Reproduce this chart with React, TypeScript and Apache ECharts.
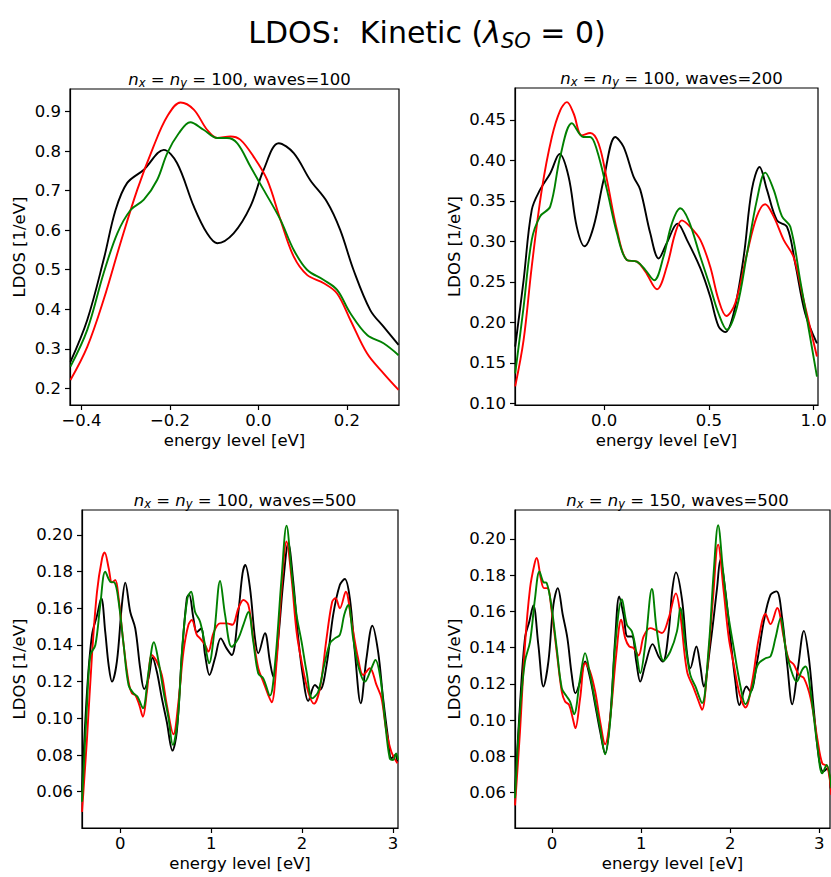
import React, { useEffect, useRef } from "react";
import * as echarts from "echarts";

const FONT = "DejaVu Sans";

// ---- tick labels ----
const xTicksTop1 = [-0.4, -0.2, 0.0, 0.2];
const yTicksTop1 = [0.2, 0.3, 0.4, 0.5, 0.6, 0.7, 0.8, 0.9];
const xTicksTop2 = [0.0, 0.5, 1.0];
const yTicksTop2 = [0.1, 0.15, 0.2, 0.25, 0.3, 0.35, 0.4, 0.45];
const xTicksBottom = [0, 1, 2, 3];
const yTicksBottom = [0.06, 0.08, 0.1, 0.12, 0.14, 0.16, 0.18, 0.2];

// ---- panel titles ----
const panelGrid = ["100", "100", "100", "150"];
const panelWaves = ["100", "200", "500", "500"];

// ---- panel 1: nx=ny=100, waves=100 ----
const p1Black = [[-0.425,0.267],[-0.387,0.373],[-0.350,0.525],[-0.323,0.651],[-0.297,0.719],[-0.259,0.753],[-0.214,0.803],[-0.184,0.770],[-0.146,0.660],[-0.116,0.592],[-0.093,0.567],[-0.056,0.592],[-0.018,0.660],[0.012,0.753],[0.046,0.820],[0.080,0.795],[0.117,0.727],[0.155,0.672],[0.185,0.601],[0.215,0.500],[0.253,0.398],[0.283,0.356],[0.317,0.310]];
const p1Red = [[-0.425,0.221],[-0.387,0.305],[-0.350,0.424],[-0.312,0.567],[-0.274,0.702],[-0.237,0.812],[-0.206,0.888],[-0.176,0.923],[-0.146,0.905],[-0.116,0.854],[-0.093,0.833],[-0.063,0.837],[-0.041,0.829],[-0.011,0.786],[0.020,0.727],[0.050,0.626],[0.080,0.533],[0.110,0.487],[0.148,0.466],[0.178,0.440],[0.208,0.373],[0.246,0.288],[0.283,0.238],[0.317,0.196]];
const p1Green = [[-0.425,0.255],[-0.387,0.348],[-0.350,0.491],[-0.319,0.592],[-0.289,0.651],[-0.259,0.677],[-0.229,0.727],[-0.206,0.795],[-0.180,0.845],[-0.154,0.873],[-0.124,0.854],[-0.093,0.833],[-0.071,0.833],[-0.048,0.820],[-0.018,0.761],[0.012,0.702],[0.050,0.626],[0.080,0.550],[0.110,0.500],[0.148,0.474],[0.178,0.449],[0.208,0.390],[0.246,0.335],[0.283,0.314],[0.317,0.284]];

// ---- panel 2: nx=ny=100, waves=200 ----
const p2Black = [[-0.425,0.170],[-0.385,0.252],[-0.346,0.339],[-0.306,0.364],[-0.258,0.384],[-0.213,0.408],[-0.170,0.380],[-0.131,0.318],[-0.094,0.294],[-0.051,0.318],[-0.003,0.376],[0.053,0.429],[0.092,0.417],[0.140,0.380],[0.172,0.364],[0.220,0.310],[0.260,0.279],[0.299,0.298],[0.350,0.322],[0.395,0.302],[0.459,0.267],[0.506,0.232],[0.546,0.195],[0.578,0.188],[0.618,0.211],[0.666,0.281],[0.705,0.364],[0.742,0.392],[0.777,0.364],[0.825,0.326],[0.873,0.318],[0.912,0.273],[0.960,0.211],[1.016,0.174]];
const p2Red = [[-0.425,0.121],[-0.385,0.178],[-0.346,0.269],[-0.298,0.364],[-0.250,0.429],[-0.210,0.462],[-0.178,0.472],[-0.146,0.458],[-0.107,0.431],[-0.067,0.434],[-0.027,0.421],[0.013,0.376],[0.061,0.314],[0.108,0.277],[0.156,0.275],[0.196,0.263],[0.252,0.241],[0.299,0.269],[0.339,0.310],[0.371,0.326],[0.411,0.318],[0.459,0.302],[0.506,0.269],[0.546,0.228],[0.583,0.208],[0.626,0.224],[0.682,0.285],[0.729,0.331],[0.769,0.346],[0.809,0.331],[0.857,0.302],[0.904,0.281],[0.952,0.228],[1.016,0.158]];
const p2Green = [[-0.425,0.137],[-0.385,0.219],[-0.346,0.302],[-0.306,0.331],[-0.258,0.343],[-0.210,0.405],[-0.154,0.446],[-0.099,0.429],[-0.067,0.429],[-0.035,0.413],[0.013,0.364],[0.061,0.310],[0.108,0.277],[0.156,0.275],[0.196,0.265],[0.239,0.252],[0.283,0.281],[0.323,0.322],[0.363,0.341],[0.403,0.326],[0.459,0.281],[0.506,0.244],[0.546,0.211],[0.586,0.191],[0.634,0.219],[0.682,0.285],[0.729,0.351],[0.769,0.385],[0.809,0.364],[0.849,0.331],[0.889,0.318],[0.936,0.252],[1.016,0.133]];

// ---- panel 3: nx=ny=100, waves=500 ----
const p3Black = [[-0.421,0.060],[-0.366,0.1145],[-0.311,0.1455],[-0.256,0.156],[-0.209,0.1655],[-0.165,0.147],[-0.128,0.129],[-0.091,0.120],[-0.037,0.131],[0.018,0.162],[0.055,0.174],[0.110,0.158],[0.165,0.149],[0.220,0.127],[0.263,0.116],[0.311,0.122],[0.355,0.133],[0.402,0.1255],[0.457,0.111],[0.512,0.098],[0.574,0.0824],[0.622,0.0927],[0.677,0.1345],[0.732,0.1655],[0.757,0.1676],[0.805,0.1545],[0.842,0.147],[0.889,0.149],[0.933,0.1345],[0.981,0.1236],[1.043,0.133],[1.105,0.1436],[1.171,0.138],[1.226,0.1345],[1.299,0.158],[1.345,0.179],[1.375,0.1836],[1.427,0.171],[1.482,0.1436],[1.518,0.1355],[1.591,0.1464],[1.646,0.131],[1.683,0.1227],[1.738,0.1436],[1.793,0.1745],[1.848,0.1955],[1.903,0.1745],[1.958,0.1436],[2.013,0.1218],[2.067,0.1095],[2.141,0.1182],[2.196,0.1155],[2.269,0.129],[2.342,0.1564],[2.415,0.1727],[2.470,0.176],[2.525,0.1655],[2.580,0.1364],[2.645,0.1082],[2.708,0.1327],[2.773,0.1505],[2.836,0.1364],[2.891,0.111],[2.946,0.0891],[2.982,0.0782],[3.026,0.080],[3.048,0.0764]];
const p3Red = [[-0.421,0.049],[-0.366,0.089],[-0.311,0.1345],[-0.256,0.169],[-0.201,0.187],[-0.172,0.1905],[-0.128,0.182],[-0.091,0.174],[-0.055,0.1755],[-0.018,0.1655],[0.037,0.140],[0.091,0.120],[0.128,0.1136],[0.165,0.1127],[0.209,0.1073],[0.249,0.1009],[0.293,0.1145],[0.348,0.1345],[0.402,0.131],[0.457,0.1236],[0.512,0.1073],[0.585,0.0913],[0.640,0.109],[0.695,0.1364],[0.750,0.151],[0.787,0.1536],[0.842,0.1455],[0.878,0.1436],[0.933,0.140],[0.970,0.1364],[1.024,0.1464],[1.098,0.1518],[1.171,0.1518],[1.233,0.151],[1.299,0.160],[1.354,0.1645],[1.409,0.1618],[1.463,0.1436],[1.518,0.1273],[1.573,0.120],[1.628,0.1127],[1.665,0.1087],[1.720,0.131],[1.774,0.171],[1.829,0.1964],[1.884,0.1764],[1.939,0.1473],[1.994,0.131],[2.067,0.1145],[2.130,0.108],[2.196,0.1164],[2.269,0.1436],[2.331,0.1636],[2.368,0.1655],[2.415,0.160],[2.480,0.169],[2.543,0.1527],[2.616,0.1327],[2.671,0.1236],[2.745,0.1273],[2.818,0.1182],[2.873,0.111],[2.928,0.0927],[2.982,0.0818],[3.048,0.0755]];
const p3Green = [[-0.421,0.0545],[-0.366,0.1073],[-0.329,0.1345],[-0.274,0.140],[-0.220,0.1618],[-0.165,0.180],[-0.110,0.1745],[-0.062,0.174],[-0.018,0.1636],[0.037,0.140],[0.091,0.1182],[0.146,0.1136],[0.190,0.1118],[0.249,0.1055],[0.311,0.1255],[0.370,0.1415],[0.421,0.131],[0.476,0.1145],[0.531,0.100],[0.578,0.0855],[0.633,0.100],[0.684,0.140],[0.739,0.1655],[0.779,0.169],[0.823,0.158],[0.878,0.1527],[0.933,0.140],[0.977,0.130],[1.035,0.1473],[1.098,0.1749],[1.153,0.1564],[1.226,0.139],[1.299,0.1436],[1.354,0.151],[1.409,0.158],[1.463,0.1418],[1.518,0.1245],[1.573,0.1218],[1.646,0.1124],[1.701,0.129],[1.774,0.1764],[1.829,0.2051],[1.884,0.180],[1.939,0.1564],[1.994,0.1418],[2.049,0.1255],[2.111,0.1109],[2.177,0.1145],[2.243,0.129],[2.306,0.1409],[2.360,0.1436],[2.415,0.1455],[2.463,0.1564],[2.507,0.1618],[2.562,0.1436],[2.616,0.129],[2.690,0.120],[2.763,0.1273],[2.807,0.1318],[2.862,0.1218],[2.909,0.100],[2.964,0.0782],[3.001,0.0773],[3.034,0.0809],[3.056,0.0773]];

// ---- panel 4: nx=ny=150, waves=500 ----
const p4Black = [[-0.416,0.0606],[-0.360,0.1085],[-0.304,0.1453],[-0.255,0.1545],[-0.210,0.1633],[-0.154,0.1416],[-0.097,0.1186],[-0.041,0.1324],[0.015,0.1637],[0.064,0.1729],[0.120,0.1582],[0.172,0.1453],[0.221,0.125],[0.262,0.1149],[0.315,0.1213],[0.371,0.1324],[0.427,0.1232],[0.484,0.1085],[0.540,0.0937],[0.596,0.0817],[0.652,0.1011],[0.709,0.1453],[0.754,0.1683],[0.802,0.1582],[0.847,0.1462],[0.896,0.1462],[0.945,0.1324],[0.990,0.1213],[1.046,0.1306],[1.129,0.142],[1.196,0.1352],[1.245,0.1324],[1.309,0.149],[1.350,0.172],[1.391,0.1816],[1.459,0.1665],[1.515,0.137],[1.552,0.1287],[1.620,0.1407],[1.665,0.1296],[1.702,0.1186],[1.777,0.1416],[1.852,0.1729],[1.890,0.1886],[1.946,0.1711],[2.002,0.1453],[2.058,0.1213],[2.103,0.1084],[2.182,0.1186],[2.227,0.1158],[2.302,0.1324],[2.377,0.1545],[2.452,0.1692],[2.520,0.1711],[2.583,0.1563],[2.640,0.1306],[2.696,0.1088],[2.760,0.1287],[2.827,0.1493],[2.883,0.1342],[2.940,0.1048],[2.996,0.079],[3.045,0.0716],[3.090,0.0734],[3.127,0.0624]];
const p4Red = [[-0.416,0.053],[-0.360,0.0937],[-0.304,0.1416],[-0.247,0.1729],[-0.199,0.1858],[-0.172,0.1895],[-0.127,0.1784],[-0.090,0.1729],[-0.052,0.1729],[-0.004,0.160],[0.052,0.1379],[0.109,0.1158],[0.146,0.1103],[0.191,0.1084],[0.232,0.1011],[0.262,0.0956],[0.315,0.1121],[0.371,0.1315],[0.427,0.1269],[0.484,0.1158],[0.540,0.0992],[0.596,0.0867],[0.652,0.1011],[0.720,0.1361],[0.776,0.1554],[0.821,0.1453],[0.866,0.1407],[0.915,0.1398],[0.971,0.1357],[1.028,0.1462],[1.102,0.1508],[1.159,0.1499],[1.234,0.1481],[1.309,0.1563],[1.390,0.170],[1.440,0.1582],[1.515,0.1269],[1.590,0.1177],[1.646,0.1103],[1.684,0.1057],[1.740,0.1269],[1.807,0.1674],[1.864,0.1969],[1.927,0.1711],[1.984,0.1453],[2.040,0.1306],[2.107,0.114],[2.171,0.107],[2.246,0.1213],[2.321,0.1453],[2.396,0.1586],[2.452,0.153],[2.527,0.1619],[2.602,0.1453],[2.659,0.1333],[2.715,0.1306],[2.771,0.125],[2.827,0.1232],[2.902,0.1121],[2.977,0.09],[3.033,0.0762],[3.090,0.0744],[3.135,0.0587]];
const p4Green = [[-0.416,0.0569],[-0.360,0.1048],[-0.304,0.1324],[-0.247,0.1434],[-0.191,0.1674],[-0.142,0.1821],[-0.097,0.1762],[-0.060,0.1757],[-0.004,0.1619],[0.052,0.1398],[0.109,0.1177],[0.157,0.1136],[0.202,0.1103],[0.247,0.1033],[0.315,0.1232],[0.371,0.137],[0.427,0.125],[0.484,0.1103],[0.540,0.0956],[0.596,0.0812],[0.652,0.0992],[0.709,0.1416],[0.784,0.1668],[0.840,0.1527],[0.896,0.149],[0.945,0.1379],[0.990,0.1259],[1.046,0.1416],[1.121,0.1724],[1.177,0.149],[1.252,0.1328],[1.327,0.1379],[1.402,0.149],[1.440,0.1619],[1.496,0.1416],[1.552,0.125],[1.609,0.1186],[1.684,0.1094],[1.758,0.1398],[1.815,0.1821],[1.864,0.2076],[1.920,0.1821],[1.972,0.16],[2.040,0.1398],[2.115,0.1186],[2.171,0.1088],[2.246,0.1177],[2.309,0.1306],[2.396,0.1342],[2.452,0.1352],[2.508,0.1453],[2.565,0.1563],[2.621,0.1398],[2.677,0.1287],[2.745,0.1213],[2.808,0.1278],[2.846,0.1296],[2.902,0.1158],[2.977,0.0863],[3.033,0.0707],[3.082,0.0753],[3.135,0.0624]];

const COLORS = { black: "#000000", red: "#ff0000", green: "#008000" };

type PanelDef = {
  grid: { left: number; top: number; width: number; height: number };
  xMin: number; xMax: number; yMin: number; yMax: number;
  xTicks: number[]; yTicks: number[]; xDec: number; yDec: number;
  yNameGap: number;
  series: { black: number[][]; red: number[][]; green: number[][] };
};

const panels: PanelDef[] = [
  {
    grid: { left: 70, top: 89, width: 329, height: 316 },
    xMin: -0.426, xMax: 0.318, yMin: 0.158, yMax: 0.957,
    xTicks: xTicksTop1, yTicks: yTicksTop1, xDec: 1, yDec: 1, yNameGap: 42,
    series: { black: p1Black, red: p1Red, green: p1Green },
  },
  {
    grid: { left: 515, top: 88, width: 303, height: 317 },
    xMin: -0.426, xMax: 1.021, yMin: 0.098, yMax: 0.4895,
    xTicks: xTicksTop2, yTicks: yTicksTop2, xDec: 1, yDec: 2, yNameGap: 52,
    series: { black: p2Black, red: p2Red, green: p2Green },
  },
  {
    grid: { left: 82, top: 510, width: 316, height: 318 },
    xMin: -0.421, xMax: 3.055, yMin: 0.0402, yMax: 0.2136,
    xTicks: xTicksBottom, yTicks: yTicksBottom, xDec: 0, yDec: 2, yNameGap: 54,
    series: { black: p3Black, red: p3Red, green: p3Green },
  },
  {
    grid: { left: 515, top: 510, width: 315, height: 318 },
    xMin: -0.416, xMax: 3.12, yMin: 0.0405, yMax: 0.216,
    xTicks: xTicksBottom, yTicks: yTicksBottom, xDec: 0, yDec: 2, yNameGap: 52,
    series: { black: p4Black, red: p4Red, green: p4Green },
  },
];

const fmt = (v: number, dec: number) => v.toFixed(dec).replace("-", "\u2212");

const TICK_FS = 16.5;

function buildOption() {
  const base = { fontFamily: FONT, color: "#000", fontWeight: "normal" };
  const titles: any[] = [
    {
      text: "{t|LDOS:  Kinetic (}{i|λ}{s|SO}{t| = 0)}",
      left: 422,
      top: 8,
      textAlign: "center",
      textStyle: {
        fontWeight: "normal",
        rich: {
          t: { ...base, fontSize: 30, lineHeight: 38 },
          i: { ...base, fontSize: 30, fontStyle: "italic", lineHeight: 38 },
          s: { ...base, fontSize: 21, fontStyle: "italic", lineHeight: 21, verticalAlign: "bottom" },
        },
      },
    },
  ];
  panels.forEach((p, k) => {
    const cx = p.grid.left + p.grid.width / 2;
    titles.push({
      text: `{i|n}{s|x}{t| = }{i|n}{s|y}{t| = ${panelGrid[k]}, waves=${panelWaves[k]}}`,
      left: cx,
      top: p.grid.top - 25,
      textAlign: "center",
      textStyle: {
        fontWeight: "normal",
        rich: {
          t: { ...base, fontSize: TICK_FS, lineHeight: 20 },
          i: { ...base, fontSize: TICK_FS, fontStyle: "italic", lineHeight: 20 },
          s: { ...base, fontSize: 11.5, fontStyle: "italic", lineHeight: 11, verticalAlign: "bottom" },
        },
      },
    });
  });

  const grids = panels.map((p) => ({
    ...p.grid,
    show: true,
    borderColor: "#000",
    borderWidth: 1.2,
    backgroundColor: "transparent",
    containLabel: false,
    outerBoundsMode: "none",
  }));

  const xAxes = panels.map((p, k) => ({
    gridIndex: k,
    type: "value",
    min: p.xMin,
    max: p.xMax,
    splitLine: { show: false },
    axisLine: { show: true, onZero: false, lineStyle: { color: "#000", width: 1.2 } },
    axisTick: { show: true, length: 5, lineStyle: { color: "#000", width: 1.2 }, customValues: p.xTicks },
    axisLabel: {
      customValues: p.xTicks,
      formatter: (v: number) => fmt(v, p.xDec),
      margin: 7,
      fontFamily: FONT,
      fontSize: TICK_FS,
      color: "#000",
    },
    name: "energy level [eV]",
    nameLocation: "middle",
    nameGap: 27,
    nameTextStyle: { fontFamily: FONT, fontSize: TICK_FS, color: "#000" },
  }));

  const yAxes = panels.map((p, k) => ({
    gridIndex: k,
    type: "value",
    min: p.yMin,
    max: p.yMax,
    splitLine: { show: false },
    axisLine: { show: true, onZero: false, lineStyle: { color: "#000", width: 1.2 } },
    axisTick: { show: true, length: 5, lineStyle: { color: "#000", width: 1.2 }, customValues: p.yTicks },
    axisLabel: {
      customValues: p.yTicks,
      formatter: (v: number) => fmt(v, p.yDec),
      margin: 9,
      fontFamily: FONT,
      fontSize: TICK_FS,
      color: "#000",
    },
    name: "LDOS [1/eV]",
    nameLocation: "middle",
    nameGap: p.yNameGap,
    nameTextStyle: { fontFamily: FONT, fontSize: TICK_FS, color: "#000" },
  }));

  const series: any[] = [];
  panels.forEach((p, k) => {
    (["black", "red", "green"] as const).forEach((c) => {
      series.push({
        type: "line",
        name: `${c}-${k}`,
        xAxisIndex: k,
        yAxisIndex: k,
        data: p.series[c],
        showSymbol: false,
        symbol: "none",
        smooth: 0.35,
        clip: true,
        lineStyle: { color: COLORS[c], width: 1.9 },
        itemStyle: { color: COLORS[c] },
        emphasis: { disabled: true },
      });
    });
  });

  return {
    animation: false,
    backgroundColor: "#ffffff",
    title: titles,
    grid: grids,
    xAxis: xAxes,
    yAxis: yAxes,
    series,
  };
}

export default function App() {
  const ref = useRef<HTMLDivElement>(null);
  useEffect(() => {
    if (!ref.current) return;
    const chart = echarts.init(ref.current, undefined, { renderer: "svg" });
    chart.setOption(buildOption() as any);
    return () => chart.dispose();
  }, []);
  return (
    <div
      ref={ref}
      style={{ position: "absolute", left: 0, top: 0, width: 831, height: 877, background: "#fff" }}
    />
  );
}
